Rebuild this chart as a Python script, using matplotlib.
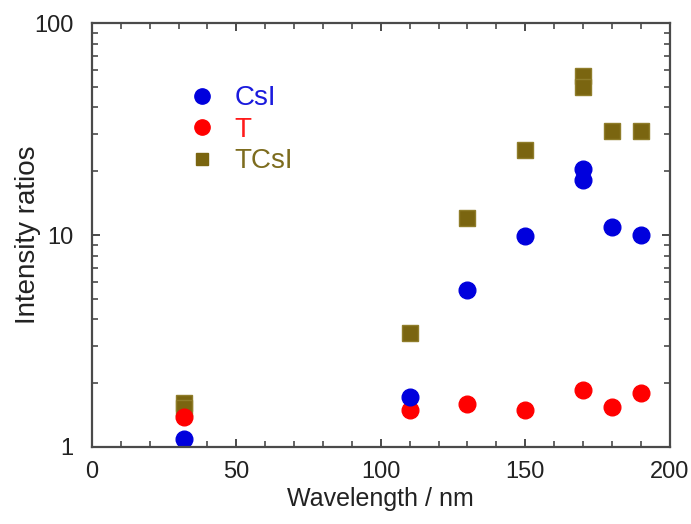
import matplotlib
matplotlib.use('Agg')
import matplotlib.pyplot as plt
from matplotlib.ticker import MultipleLocator, LogLocator, NullFormatter, FixedFormatter, FixedLocator

plt.rcParams['font.family'] = ['Liberation Sans', 'DejaVu Sans']

# wavelength (nm) and intensity ratios
csi_x = [32, 110, 130, 150, 170, 170, 180, 190]
csi_y = [1.09, 1.73, 5.5, 9.9, 20.5, 18.1, 10.9, 10.0]

t_x = [32, 110, 130, 150, 170, 180, 190]
t_y = [1.38, 1.49, 1.6, 1.49, 1.85, 1.55, 1.79]

tcsi_x = [32, 32, 110, 130, 150, 170, 170, 180, 190]
tcsi_y = [1.62, 1.52, 3.45, 12.0, 25.2, 56.0, 50.0, 31.0, 31.0]

fig = plt.figure(figsize=(6.91, 5.24), dpi=100)
ax = fig.add_axes([0.133, 0.147, 0.836, 0.809])

ax.plot(tcsi_x, tcsi_y, 's', color='#7a6510', mec='#8f7d2a', ms=12, ls='none')
ax.plot(t_x, t_y, 'o', color='#ff0000', mec='#ff0000', ms=12, ls='none')
ax.plot(csi_x, csi_y, 'o', color='#0000dd', mec='#0000dd', ms=12, ls='none')

ax.set_yscale('log')
ax.set_xlim(0, 200)
ax.set_ylim(1, 100)

ax.xaxis.set_major_locator(MultipleLocator(50))
ax.xaxis.set_minor_locator(MultipleLocator(10))
ax.yaxis.set_major_locator(FixedLocator([1, 10, 100]))
ax.yaxis.set_major_formatter(FixedFormatter(['1', '10', '100']))
ax.yaxis.set_minor_locator(LogLocator(base=10, subs=range(2, 10)))
ax.yaxis.set_minor_formatter(NullFormatter())

for s in ax.spines.values():
    s.set_color('#4a4a4a')
    s.set_linewidth(1.6)
ax.tick_params(which='both', direction='in', top=True, right=True, color='#4a4a4a',
               labelsize=17, labelcolor='#222222')
ax.tick_params(axis='x', pad=10)
ax.tick_params(axis='y', pad=13)
ax.tick_params(which='major', length=6, width=1.4)
ax.tick_params(which='minor', length=4, width=1.2)

ax.set_xlabel('Wavelength / nm', fontsize=18, color='#222222', labelpad=3)
ax.set_ylabel('Intensity ratios', fontsize=20, color='#222222')
ax.yaxis.set_label_coords(-0.088, 0.5)

# legend: markers plus coloured names
names = ['CsI', 'T', 'TCsI']
colors = ['#0000dd', '#ff0000', '#7a6510']
text_colors = ['#1a1add', '#ff1a1a', '#7d6c1e']
markers = ['o', 'o', 's']
sizes = [11, 11, 9]
handles = [plt.Line2D([], [], marker=m, color=c, ls='none', ms=s)
           for m, c, s in zip(markers, colors, sizes)]
leg = ax.legend(handles, names, loc='upper left', bbox_to_anchor=(0.162, 0.853),
                frameon=False, fontsize=20, borderpad=0, borderaxespad=0,
                handletextpad=0.56, labelspacing=0.2, handlelength=1.2)
for txt, tc in zip(leg.get_texts(), text_colors):
    txt.set_color(tc)

fig.savefig('out.png', dpi=100)
